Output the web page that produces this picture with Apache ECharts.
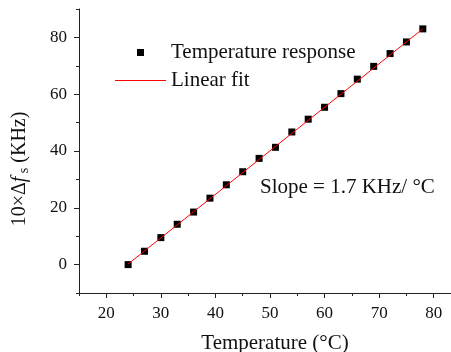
<!DOCTYPE html>
<html><head><meta charset="utf-8">
<script src="https://cdn.jsdelivr.net/npm/echarts@6/dist/echarts.min.js"></script>
<style>html,body{margin:0;padding:0;background:#fff}#c{width:451px;height:352px}</style>
</head><body><div id="c"></div>
<script>
const temperatures = [24,27,30,33,36,39,42,45,48,51,54,57,60,63,66,69,72,75,78];
const response = [0,4.7,9.5,14.2,18.5,23.4,28.1,32.7,37.4,41.3,46.7,51.2,55.4,60.2,65.3,69.8,74.3,78.4,83.0];
const fitX = [24,78];
const fitY = [0.2,83.0];
const xMajorTicks = [20,30,40,50,60,70,80];
const xMinorTicks = [15,25,35,45,55,65,75,85];
const yMajorTicks = [0,20,40,60,80];
const yMinorTicks = [-10,10,30,50,70,90];

const FONT = 'Liberation Serif';
const AX = '#222';
const chart = echarts.init(document.getElementById('c'), null, {renderer:'canvas'});
const grid = {left:79, top:9, width:382, height:284, containLabel:false, outerBoundsMode:'none'};
const baseX = {type:'value', min:15, max:85, interval:5, position:'bottom', gridIndex:0,
  axisLine:{onZero:false, lineStyle:{color:AX,width:1}}, splitLine:{show:false}};
const baseY = {type:'value', min:-10, max:90, interval:10, position:'left', gridIndex:0,
  axisLine:{onZero:false, lineStyle:{color:AX,width:1}}, splitLine:{show:false}};
const tickLabel = {fontFamily:'"Liberation Serif", "DejaVu Serif", serif',fontSize:17,color:'#111'};
chart.setOption({
  animation:false,
  textStyle:{fontFamily:FONT},
  grid:grid,
  xAxis:[
    Object.assign({}, baseX, {
      name:'Temperature (°C)', nameLocation:'middle', nameGap:40,
      nameTextStyle:{fontFamily:FONT,fontSize:21,color:'#111', padding:[0,0,0,10]},
      axisTick:{show:true,inside:false,length:5,customValues:xMajorTicks,lineStyle:{color:AX}},
      axisLabel:Object.assign({show:true,margin:12,customValues:xMajorTicks}, tickLabel)
    }),
    Object.assign({}, baseX, {
      axisLine:{show:false,onZero:false},
      axisTick:{show:true,inside:false,length:3,customValues:xMinorTicks,lineStyle:{color:AX}},
      axisLabel:{show:false}
    })
  ],
  yAxis:[
    Object.assign({}, baseY, {
      name:'{n|10×Δ}{i|f}{s| s}{n| (KHz)}', nameLocation:'middle', nameGap:48,
      nameTextStyle:{fontFamily:FONT,fontSize:20,color:'#111', padding:[0,36,0,0],
        rich:{n:{fontFamily:FONT,fontSize:20,color:'#111'},
              i:{fontFamily:FONT,fontSize:20,fontStyle:'italic',color:'#111'},
              s:{fontFamily:FONT,fontSize:14,color:'#111',padding:[9,0,0,0]}}},
      axisTick:{show:true,inside:false,length:5,customValues:yMajorTicks,lineStyle:{color:AX}},
      axisLabel:Object.assign({show:true,margin:12,customValues:yMajorTicks}, tickLabel)
    }),
    Object.assign({}, baseY, {
      axisLine:{show:false,onZero:false},
      axisTick:{show:true,inside:false,length:3,customValues:yMinorTicks,lineStyle:{color:AX}},
      axisLabel:{show:false}
    })
  ],
  legend:{
    orient:'vertical', left:110, top:37, itemWidth:51, itemHeight:7, itemGap:7,
    symbolKeepAspect:true,
    textStyle:{fontFamily:FONT,fontSize:21,color:'#111'},
    data:[
      {name:'Temperature response', icon:'path://M0 0H1V1H0Z', itemStyle:{color:'#000'}},
      {name:'Linear fit', icon:'path://M0 0H51V1H0Z', itemStyle:{color:'#ff0000'}}
    ]
  },
  series:[
    {name:'Linear fit', type:'line', xAxisIndex:0, yAxisIndex:0,
     data:fitX.map((x,i)=>[x,fitY[i]]), symbol:'none',
     lineStyle:{color:'#ff0000',width:1}, itemStyle:{color:'#ff0000'}, z:3},
    {name:'Temperature response', type:'scatter', xAxisIndex:0, yAxisIndex:0,
     data:temperatures.map((x,i)=>[x,response[i]]), symbol:'rect', symbolSize:7,
     itemStyle:{color:'#000', opacity:1}, z:2}
  ],
  graphic:[
    {type:'text', left:260, top:177, style:{text:'Slope = 1.7 KHz/ °C', font:'21px "Liberation Serif"', fill:'#111'}}
  ]
});
</script></body></html>
